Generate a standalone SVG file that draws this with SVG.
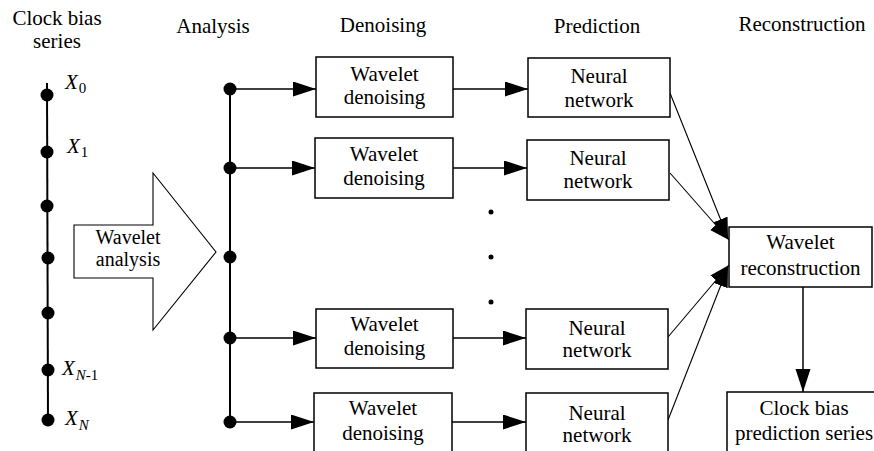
<svg xmlns="http://www.w3.org/2000/svg" width="874" height="451" viewBox="0 0 874 451">
<style>
text{font-family:'Liberation Serif','Times New Roman',serif;font-size:21px;fill:#000;text-anchor:middle}
.x{font-style:italic;text-anchor:start;font-size:21px}
.sub{font-size:15px}
.box{fill:#fff;stroke:#000;stroke-width:1.5}
.ln{stroke:#000;stroke-width:1.5;fill:none}
.thin{stroke:#000;stroke-width:1.1;fill:none}
.dot{fill:#000}
</style>
<defs>
<marker id="ah" markerUnits="userSpaceOnUse" markerWidth="24" markerHeight="16" refX="23" refY="7.5" orient="auto" viewBox="0 0 24 16">
<path d="M0,0 L23,7.5 L0,15 Z" fill="#000"/>
</marker>
<marker id="ah2" markerUnits="userSpaceOnUse" markerWidth="22" markerHeight="16" refX="20" refY="7.5" orient="auto" viewBox="0 0 22 16">
<path d="M0,0 L20,7.5 L0,15 Z" fill="#000"/>
</marker>
</defs>

<g id="headers">
<text x="57" y="25">Clock bias</text>
<text x="57" y="48">series</text>
<text x="213" y="33">Analysis</text>
<text x="383" y="32">Denoising</text>
<text x="597" y="33">Prediction</text>
<text x="802" y="31">Reconstruction</text>
</g>

<g id="series">
<line class="ln" x1="47" y1="83" x2="48" y2="420" style="stroke-width:2"/>
<circle class="dot" cx="47" cy="95" r="6.5"/>
<circle class="dot" cx="47" cy="152" r="6.5"/>
<circle class="dot" cx="47" cy="206" r="6.5"/>
<circle class="dot" cx="48" cy="258" r="6.5"/>
<circle class="dot" cx="48" cy="313" r="6.5"/>
<circle class="dot" cx="48" cy="370" r="6.5"/>
<circle class="dot" cx="48" cy="420" r="6.5"/>
<text class="x" x="65" y="89">X<tspan class="sub" dx="1" dy="4" font-style="normal">0</tspan></text>
<text class="x" x="67" y="153">X<tspan class="sub" dx="1" dy="4" font-style="normal">1</tspan></text>
<text class="x" x="62" y="375">X<tspan class="sub" dx="1" dy="5">N</tspan><tspan class="sub" font-style="normal">-1</tspan></text>
<text class="x" x="65" y="425">X<tspan class="sub" dx="1" dy="5">N</tspan></text>
</g>

<g id="wavelet-analysis">
<polygon points="74,225 153,225 153,173 216,252 153,330 153,278 74,278" fill="#fff" stroke="#000" stroke-width="1.1"/>
<text x="128" y="244" style="font-size:20px">Wavelet</text>
<text x="128" y="266" style="font-size:20px">analysis</text>
</g>

<g id="analysis">
<line class="ln" x1="230" y1="88" x2="230" y2="422" style="stroke-width:2"/>
<circle class="dot" cx="230" cy="89" r="6.5"/>
<circle class="dot" cx="230" cy="168" r="6.5"/>
<circle class="dot" cx="230" cy="257" r="6.5"/>
<circle class="dot" cx="230" cy="338" r="6.5"/>
<circle class="dot" cx="230" cy="422" r="6.5"/>
</g>

<g id="connectors">
<line class="ln" x1="230" y1="89" x2="316" y2="89" marker-end="url(#ah)"/>
<line class="ln" x1="230" y1="168" x2="315" y2="168" marker-end="url(#ah)"/>
<line class="ln" x1="230" y1="338" x2="316" y2="338" marker-end="url(#ah)"/>
<line class="ln" x1="230" y1="422" x2="314" y2="422" marker-end="url(#ah)"/>
<line class="ln" x1="453" y1="89" x2="528" y2="89" marker-end="url(#ah)"/>
<line class="ln" x1="453" y1="168" x2="527" y2="168" marker-end="url(#ah)"/>
<line class="ln" x1="453" y1="338" x2="526" y2="338" marker-end="url(#ah)"/>
<line class="ln" x1="452" y1="422" x2="526" y2="422" marker-end="url(#ah)"/>
<line class="thin" x1="670" y1="93" x2="728" y2="238" marker-end="url(#ah2)"/>
<line class="thin" x1="670" y1="173" x2="729" y2="240" marker-end="url(#ah2)"/>
<line class="thin" x1="668" y1="337" x2="729" y2="265" marker-end="url(#ah2)"/>
<line class="thin" x1="668" y1="420" x2="728" y2="267" marker-end="url(#ah2)"/>
<line class="ln" x1="803" y1="287" x2="803" y2="392" marker-end="url(#ah)"/>
</g>

<g id="ellipsis">
<circle class="dot" cx="491" cy="212" r="2.5"/>
<circle class="dot" cx="491" cy="257" r="2.5"/>
<circle class="dot" cx="491" cy="302" r="2.5"/>
</g>

<g id="denoise1"><rect class="box" x="316" y="57" width="137" height="60"/><text x="384.5" y="81">Wavelet</text><text x="384.5" y="104">denoising</text></g>
<g id="denoise2"><rect class="box" x="315" y="138" width="138" height="60"/><text x="384" y="161">Wavelet</text><text x="384" y="185">denoising</text></g>
<g id="denoise3"><rect class="box" x="316" y="309" width="137" height="59"/><text x="384.5" y="331">Wavelet</text><text x="384.5" y="355">denoising</text></g>
<g id="denoise4"><rect class="box" x="314" y="393" width="138" height="70"/><text x="383" y="415">Wavelet</text><text x="383" y="440">denoising</text></g>

<g id="nn1"><rect class="box" x="528" y="58" width="142" height="59"/><text x="599" y="83">Neural</text><text x="599" y="107">network</text></g>
<g id="nn2"><rect class="box" x="527" y="140" width="142" height="60"/><text x="598" y="165">Neural</text><text x="598" y="188">network</text></g>
<g id="nn3"><rect class="box" x="526" y="309" width="142" height="60"/><text x="597" y="335">Neural</text><text x="597" y="357">network</text></g>
<g id="nn4"><rect class="box" x="526" y="393" width="142" height="70"/><text x="597" y="420">Neural</text><text x="597" y="442">network</text></g>

<g id="reconstruction"><rect class="box" x="729" y="227" width="143" height="60"/><text x="800.5" y="249">Wavelet</text><text x="800.5" y="275">reconstruction</text></g>

<g id="output"><rect class="box" x="727" y="392" width="160" height="80"/><text x="804" y="415">Clock bias</text><text x="804" y="440">prediction series</text></g>
</svg>
